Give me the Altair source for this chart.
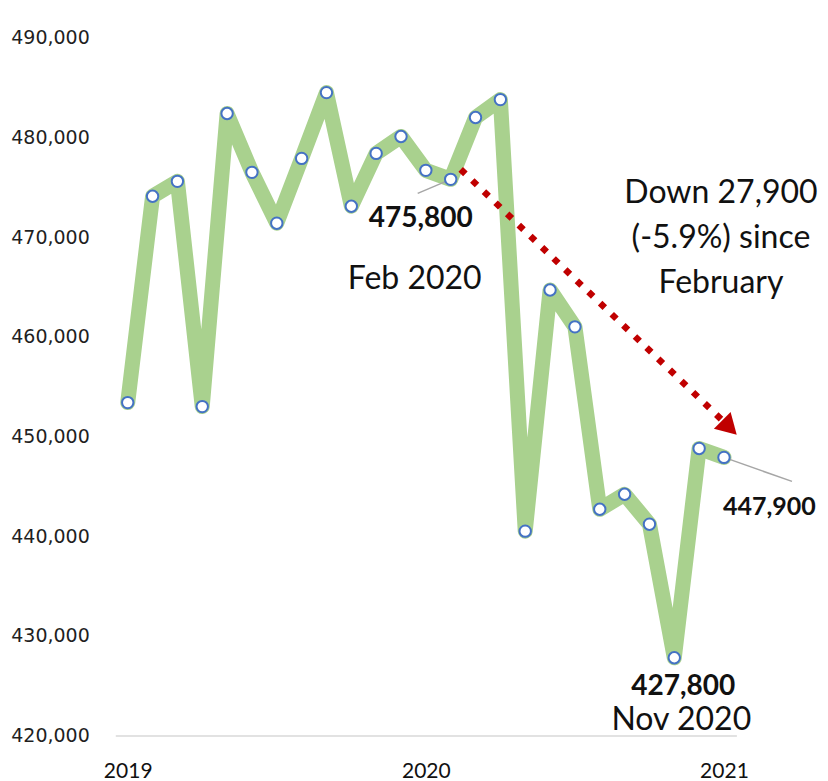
import altair as alt
import pandas as pd

# ---- data ----
months = ["2019-01", "2019-02", "2019-03", "2019-04", "2019-05", "2019-06",
          "2019-07", "2019-08", "2019-09", "2019-10", "2019-11", "2019-12",
          "2020-01", "2020-02", "2020-03", "2020-04", "2020-05", "2020-06",
          "2020-07", "2020-08", "2020-09", "2020-10", "2020-11", "2020-12",
          "2021-01"]
values = [453400, 474100, 475600, 453000, 482400, 476500,
          471400, 477900, 484500, 473100, 478400, 480100,
          476700, 475800, 482000, 483800, 440500, 464700,
          461000, 442700, 444200, 441200, 427800, 448800,
          447900]
year_ticks = [0, 12, 24]
year_labels = ["2019", "2020", "2021"]
y_ticks = [420000, 430000, 440000, 450000, 460000, 470000, 480000, 490000]

FEB, NOV, LAST = 13, 22, 24
drop_text = ["Down 27,900", "(-5.9%) since", "February"]

df = pd.DataFrame({"month": months, "idx": list(range(len(months))), "value": values})
arrow_df = pd.DataFrame({"x1": [FEB], "y1": [values[FEB]], "x2": [LAST], "y2": [values[LAST]]})

label_expr = "[" + ",".join(f"'{l}'" for l in year_labels) + "][datum.value / 12]"

xs = alt.Scale(domain=[-0.5, 24.5], nice=False, zero=False)
ys = alt.Scale(domain=[420000, 490000], nice=False, zero=False)

x_axis = alt.Axis(values=year_ticks, labelExpr=label_expr, title=None, grid=False,
                  ticks=False, tickSize=0, domain=True, domainColor="#D9D9D9",
                  domainWidth=1.5, labelFont="Lato", labelFontSize=21,
                  labelColor="#111111", labelPadding=25, labelFlush=False,
                  labelOverlap=False)
y_axis = alt.Axis(values=y_ticks, labelExpr="format(datum.value, ',')", title=None,
                  grid=False, ticks=False, tickSize=0, domain=False,
                  labelFont="DejaVu Sans", labelFontSize=19,
                  labelColor="#1f1f1f", labelPadding=26)

X = alt.X("idx:Q", scale=xs, axis=x_axis)
Y = alt.Y("value:Q", scale=ys, axis=y_axis)

base = alt.Chart(df).encode(x=X, y=Y)

line = base.mark_line(color="#A9D18E", strokeWidth=15, strokeJoin="round", strokeCap="round")

arrow = alt.Chart(arrow_df).mark_rule(
    color="#C00000", strokeWidth=6.5, strokeDash=[6.5, 9.6], strokeCap="butt",
    xOffset=10, yOffset=-10, x2Offset=-2.3, y2Offset=-37.7
).encode(
    x=alt.X("x1:Q", scale=xs, axis=x_axis),
    y=alt.Y("y1:Q", scale=ys, axis=y_axis),
    x2="x2:Q", y2="y2:Q")

head = base.transform_filter(alt.datum.idx == LAST).mark_point(
    shape="triangle-right", angle=45, size=560, filled=True, color="#C00000",
    opacity=1, xOffset=5.5, yOffset=-29.9)

lead_feb = base.transform_filter(alt.datum.idx == FEB).mark_rule(
    color="#A6A6A6", strokeWidth=1.5, x2Offset=-33, y2Offset=14
).encode(x2="idx:Q", y2="value:Q")
lead_last = base.transform_filter(alt.datum.idx == LAST).mark_rule(
    color="#A6A6A6", strokeWidth=1.5, x2Offset=68, y2Offset=24
).encode(x2="idx:Q", y2="value:Q")

pts = base.mark_point(shape="circle", filled=True, fill="white", stroke="#4472C4",
                      strokeWidth=2, size=130, opacity=1)

def note(idx, text, dx, dy, size, bold=False, align="center"):
    return base.transform_filter(alt.datum.idx == idx).mark_text(
        text=text, dx=dx, dy=dy, fontSize=size, font="Lato",
        fontWeight="bold" if bold else "normal", color="#111111",
        align=align, baseline="middle")

t1 = note(FEB, f"{values[FEB]:,}", -30, 40, 28, bold=True)
t2 = note(FEB, "Feb 2020", -36, 100, 32)
t3 = note(NOV, f"{values[NOV]:,}", 9, 29, 28, bold=True)
t4 = note(NOV, "Nov 2020", 7, 62, 32)
t5 = note(LAST, f"{values[LAST]:,}", -1, 50, 25, bold=True, align="left")
t6 = base.transform_filter(alt.datum.idx == LAST).mark_text(
    text=drop_text, dx=-3, dy=-264, fontSize=32, font="Lato", color="#111111",
    align="center", baseline="middle", lineHeight=45)

chart = alt.layer(line, arrow, head, lead_feb, lead_last, pts, t1, t2, t3, t4, t5, t6).properties(
    width=621.1, height=697.7,
    padding={"left": 107.3, "top": 29.8, "right": 83.6, "bottom": 52},
    autosize=alt.AutoSizeParams(type="none"),
    background="white",
).configure_view(stroke=None)

chart.save("out.html", embed_options={"renderer": "svg", "actions": False})
